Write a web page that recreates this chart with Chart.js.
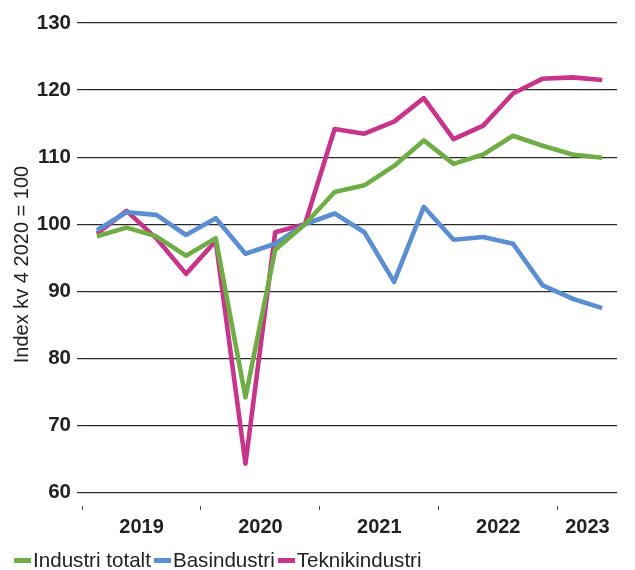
<!DOCTYPE html>
<html>
<head>
<meta charset="utf-8">
<script src="https://cdn.jsdelivr.net/npm/chart.js@4/dist/chart.umd.min.js"></script>
<style>
    body { margin: 0; background: #fff; }
    #wrap { position: relative; width: 635px; height: 570px; }
    #legend {
        position: absolute; left: 14px; top: 548px;
        display: flex; align-items: center;
        font: 20.6px 'Liberation Sans', Arial, sans-serif; color: #222; line-height: 24px;
    }
    #legend .item { display: flex; align-items: center; margin-right: 3px; }
    #legend .box { display: inline-block; width: 17px; height: 5px; margin-right: 2px; }
</style>
</head>
<body>
<div id="wrap">
    <canvas id="prodChart" width="635" height="570"></canvas>
    <div id="legend"></div>
</div>
<script>
// kvartal 2019 K1 - 2023 K2
const quarters = [
    '2019 K1', '2019 K2', '2019 K3', '2019 K4',
    '2020 K1', '2020 K2', '2020 K3', '2020 K4',
    '2021 K1', '2021 K2', '2021 K3', '2021 K4',
    '2022 K1', '2022 K2', '2022 K3', '2022 K4',
    '2023 K1', '2023 K2'
];
// year label sits on the 2nd quarter of each year (1st for 2023), shifted half a step
const yearLabels = ['', '2019', '', '', '', '2020', '', '', '', '2021', '', '', '', '2022', '', '', '2023', ''];
const yearStarts = [0, 4, 8, 12, 16];

const industriTotalt = [98.2, 99.5, 98.2, 95.3, 97.9, 74.2, 96.2, 100, 104.8, 105.8, 108.7, 112.5, 109.0, 110.4, 113.2, 111.7, 110.4, 109.9];
const basindustri = [99.1, 101.8, 101.4, 98.4, 100.9, 95.6, 97.1, 100, 101.6, 98.8, 91.4, 102.6, 97.7, 98.1, 97.1, 90.9, 88.9, 87.5];
const teknikindustri = [98.6, 102.0, 97.9, 92.6, 97.5, 64.3, 98.8, 100, 114.2, 113.5, 115.3, 118.8, 112.7, 114.7, 119.5, 121.7, 121.9, 121.5];

const yTicks = [60, 70, 80, 90, 100, 110, 120, 130];

const FONT = "'Liberation Sans', Arial, sans-serif";

const series = [
    { label: 'Industri totalt', data: industriTotalt, color: '#70AD47' },
    { label: 'Basindustri', data: basindustri, color: '#5B8FD2' },
    { label: 'Teknikindustri', data: teknikindustri, color: '#C6358A' }
];

new Chart(document.getElementById('prodChart'), {
    type: 'line',
    data: {
        labels: quarters,
        datasets: series.map(s => ({
            label: s.label,
            data: s.data,
            borderColor: s.color,
            backgroundColor: s.color,
            borderWidth: 4.6,
            borderJoinStyle: 'round',
            pointRadius: 0,
            tension: 0,
            fill: false
        }))
    },
    options: {
        responsive: false,
        animation: false,
        layout: { padding: { top: 23, right: 18, left: 0, bottom: 0 } },
        plugins: {
            legend: { display: false },
            tooltip: { enabled: false }
        },
        scales: {
            x: {
                type: 'category',
                offset: true,
                border: { display: false },
                grid: {
                    offset: true,
                    drawOnChartArea: false,
                    tickLength: 4,
                    lineWidth: 1,
                    color: ctx => yearStarts.includes(ctx.index) ? '#444' : 'rgba(0,0,0,0)'
                },
                ticks: {
                    autoSkip: false,
                    maxRotation: 0,
                    labelOffset: 15,
                    padding: 5,
                    color: '#222',
                    font: { family: FONT, size: 20, weight: 'bold' },
                    callback: (v, i) => yearLabels[i]
                },
                afterFit(scale) { scale.height = 64; }
            },
            y: {
                min: 58,
                max: 130,
                border: { display: false },
                grid: { color: '#2a2a2a', lineWidth: 1.2, tickLength: 5 },
                ticks: {
                    stepSize: 10,
                    padding: 6,
                    color: '#222',
                    font: { family: FONT, size: 20.5, weight: 'bold' }
                },
                afterBuildTicks(scale) {
                    scale.ticks = yTicks.map(v => ({ value: v }));
                },
                title: {
                    display: true,
                    text: 'Index kv 4 2020 = 100',
                    color: '#222',
                    font: { family: FONT, size: 20 },
                    padding: { top: 10, bottom: 0 }
                },
                afterFit(scale) { scale.width = 82; }
            }
        }
    }
});

const legend = document.getElementById('legend');
series.forEach(s => {
    const item = document.createElement('span');
    item.className = 'item';
    const box = document.createElement('span');
    box.className = 'box';
    box.style.background = s.color;
    item.appendChild(box);
    item.appendChild(document.createTextNode(s.label));
    legend.appendChild(item);
});
</script>
</body>
</html>
